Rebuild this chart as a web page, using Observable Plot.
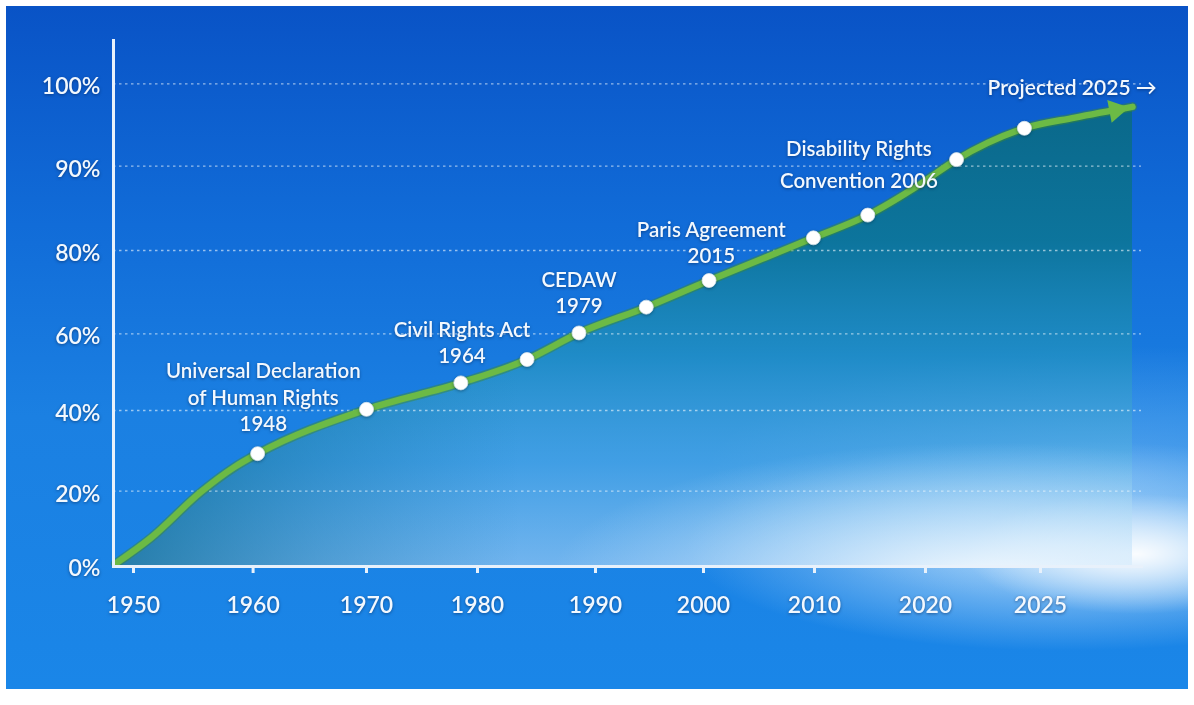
<!DOCTYPE html>
<html><head><meta charset="utf-8">
<script src="https://cdn.jsdelivr.net/npm/d3@7"></script>
<script src="https://cdn.jsdelivr.net/npm/@observablehq/plot@0.6"></script>
<style>
html,body{margin:0;padding:0;background:#fff;}
#wrap{position:relative;width:1194px;height:705px;overflow:hidden;background:#fff;}
#bg{position:absolute;left:6px;top:6px;width:1182px;height:683px;
  background:
    radial-gradient(ellipse 170px 60px at 1130px 548px, rgba(255,255,255,0.95), rgba(255,255,255,0) 100%),
    radial-gradient(ellipse 380px 105px at 1060px 540px, rgba(210,235,255,0.85), rgba(210,235,255,0) 100%),
    radial-gradient(ellipse 420px 130px at 1120px 470px, rgba(150,205,250,0.45), rgba(150,205,250,0) 100%),
    linear-gradient(180deg, #0953c6 0%, #116cd8 32%, #1b80e2 60%, #1a86e8 100%);}
#chart{position:absolute;left:0;top:0;}
#chart svg text{filter:drop-shadow(0px 1.5px 1.5px rgba(0,25,70,0.5));}
#chart svg circle{filter:drop-shadow(0px 1px 1.5px rgba(0,40,60,0.45));}
</style></head><body>
<div id="wrap"><div id="bg"></div><div id="chart"></div></div>
<script>
// ---- data ----
const xTickYears = [1950, 1960, 1970, 1980, 1990, 2000, 2010, 2020, 2025];
const yTickValues = [0, 20, 40, 60, 80, 90, 100];

const trendYears  = [1948.5, 1951.4, 1955.6, 1958.4, 1960.4, 1970.0, 1978.5, 1984.2, 1988.6, 1994.7, 2000.5, 2009.9, 2014.8, 2019.55, 2021.35, 2024.3, 2026.5, 2029.0];
const trendShares = [0.5, 7.3, 19.7, 25.9, 29.3, 40.3, 47.2, 53.3, 60.2, 66.4, 72.8, 81.5, 84.2, 87.9, 90.8, 94.6, 95.9, 97.2];

const milestoneYears  = [1960.4, 1970.0, 1978.5, 1984.2, 1988.6, 1994.7, 2000.5, 2009.9, 2014.8, 2021.35, 2024.3];
const milestoneShares = [29.3, 40.3, 47.2, 53.3, 60.2, 66.4, 72.8, 81.5, 84.2, 90.8, 94.6];

const annotationLabels = ["Universal Declaration\nof Human Rights\n1948", "Civil Rights Act\n1964", "CEDAW\n1979", "Paris Agreement\n2015"];
const annotationYears  = [1960.9, 1978.6, 1988.6, 2000.7];
const annotationShares = [34.8, 52.3, 64.9, 76.9];

const annotation2Labels = ["Disability Rights\nConvention 2006"];
const annotation2Years  = [2014.0];
const annotation2Shares = [87.4];

const projectionLabel = ["Projected 2025 \u2192"];
const projectionYears = [2022.7];
const projectionShares = [98.7];

// ---- layout ----
const W = 1194, H = 705;
const xRange = [133, 252.6, 366, 477, 595, 703, 814, 925, 1040];
const yRange = [565, 490.7, 410, 333.3, 250, 165.7, 83.3];

const trend = trendYears.map((year, i) => ({year, share: trendShares[i]}));
const milestones = milestoneYears.map((year, i) => ({year, share: milestoneShares[i]}));
const annotations = annotationLabels.map((label, i) => ({label, year: annotationYears[i], share: annotationShares[i]}));
const annotations2 = annotation2Labels.map((label, i) => ({label, year: annotation2Years[i], share: annotation2Shares[i]}));
const projection = projectionLabel.map((label, i) => ({label, year: projectionYears[i], share: projectionShares[i]}));
const tip = [trend[trend.length - 1]];

const green = "#6cba45";
const white = "#f2f8fe";

const chart = Plot.plot({
  width: W, height: H,
  marginLeft: 113, marginRight: 53, marginTop: 40, marginBottom: 139,
  style: {fontFamily: "Lato, 'Open Sans', sans-serif", background: "transparent", color: white, overflow: "visible"},
  x: {type: "linear", domain: xTickYears, range: xRange, label: null},
  y: {type: "linear", domain: yTickValues, range: yRange, label: null},
  marks: [
    Plot.areaY(trend, {x: "year", y: "share", fill: "url(#areaGrad)", curve: "monotone-x"}),
    Plot.areaY(trend, {x: "year", y: "share", fill: "url(#areaShade)", curve: "monotone-x"}),
    Plot.areaY(trend, {x: "year", y: "share", fill: "url(#areaGlow)", curve: "monotone-x"}),
    Plot.gridY(yTickValues.filter(d => d > 0), {stroke: white, strokeOpacity: 0.6, strokeWidth: 1.3, strokeDasharray: "2.5,3.5"}),
    Plot.line(trend, {x: "year", y: "share", stroke: "#3f8a2c", strokeOpacity: 0.45, strokeWidth: 9.5, curve: "monotone-x"}),
    Plot.line(trend, {x: "year", y: "share", stroke: green, strokeWidth: 6.5, curve: "monotone-x"}),
    Plot.dot(tip, {x: "year", y: "share", symbol: "triangle2", r: 11, fill: green, rotate: 79, dx: -16.5, dy: 3.2}),
    Plot.dot(milestones, {x: "year", y: "share", r: 7, fill: "white", stroke: "#d8e6ef", strokeWidth: 0.8}),
    Plot.frame({anchor: "left", stroke: "#e8f1fb", strokeWidth: 3}),
    Plot.frame({anchor: "bottom", stroke: "#e8f1fb", strokeWidth: 3}),
    Plot.axisY({ticks: yTickValues, tickFormat: d => d + "%", tickSize: 0, tickPadding: 13, fontSize: 23, fontWeight: 600, fill: white, dy: 3, label: null}),
    Plot.axisX({ticks: xTickYears, tickFormat: d => String(d), tickSize: 7, tickPadding: 23, fontSize: 23, fontWeight: 600, fill: white, stroke: "#e8f1fb", strokeWidth: 3, label: null}),
    Plot.text(annotations, {x: "year", y: "share", text: "label", lineAnchor: "bottom", lineHeight: 1.3, fontSize: 20.5, fontWeight: 600, fill: white}),
    Plot.text(annotations2, {x: "year", y: "share", text: "label", lineAnchor: "bottom", lineHeight: 1.55, fontSize: 20.5, fontWeight: 600, fill: white}),
    Plot.text(projection, {x: "year", y: "share", text: "label", lineAnchor: "bottom", textAnchor: "start", fontSize: 21, fontWeight: 600, fill: white})
  ]
});

const defs = d3.create("svg:defs");
const lg = defs.append("linearGradient").attr("id", "areaGrad")
  .attr("gradientUnits", "userSpaceOnUse").attr("x1", 0).attr("y1", 100).attr("x2", 0).attr("y2", 566);
[[0, "#0a6886", 0.96], [0.3, "#0c7597", 0.92], [0.55, "#2190c2", 0.8], [0.78, "#5ab2e6", 0.6], [1, "#b9ddf6", 0.55]]
  .forEach(([o, c, a]) => lg.append("stop").attr("offset", o).attr("stop-color", c).attr("stop-opacity", a));
const sh = defs.append("linearGradient").attr("id", "areaShade")
  .attr("gradientUnits", "userSpaceOnUse").attr("x1", 113).attr("y1", 0).attr("x2", 520).attr("y2", 0);
[[0, "#0c6a92", 0.75], [0.5, "#0f70a0", 0.35], [1, "#1276aa", 0]]
  .forEach(([o, c, a]) => sh.append("stop").attr("offset", o).attr("stop-color", c).attr("stop-opacity", a));
const gl = defs.append("radialGradient").attr("id", "areaGlow")
  .attr("gradientUnits", "userSpaceOnUse").attr("cx", 980).attr("cy", 580).attr("r", 430)
  .attr("gradientTransform", "translate(980,580) scale(1,0.32) translate(-980,-580)");
[[0, "#ffffff", 0.85], [0.45, "#e2f1ff", 0.5], [1, "#cfe8ff", 0]]
  .forEach(([o, c, a]) => gl.append("stop").attr("offset", o).attr("stop-color", c).attr("stop-opacity", a));
chart.insertBefore(defs.node(), chart.firstChild);

document.getElementById("chart").appendChild(chart);
</script>
</body></html>
